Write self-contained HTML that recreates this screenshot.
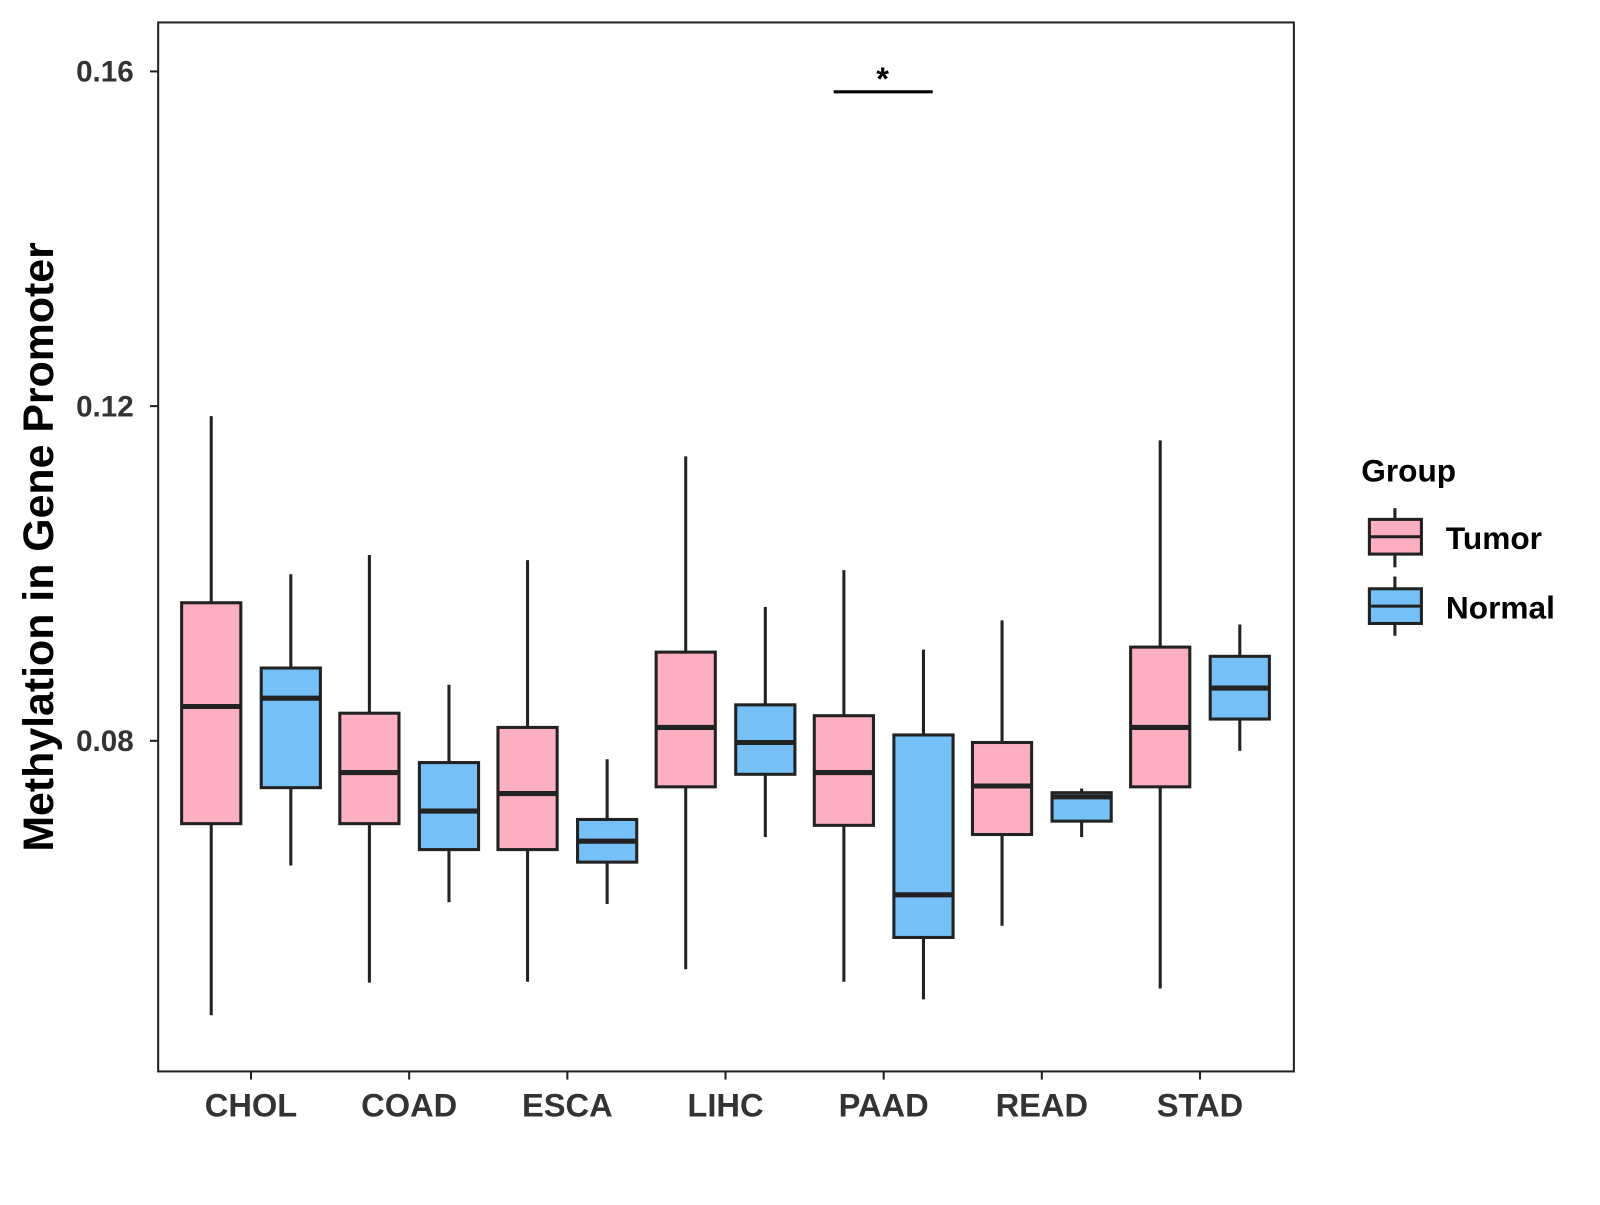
<!DOCTYPE html>
<html><head><meta charset="utf-8"><style>
body{margin:0;background:#fff}
svg text{font-family:"Liberation Sans",Arial,sans-serif;font-weight:bold}
</style></head><body>
<svg id="chart" width="1600" height="1200" viewBox="0 0 1568 1176" xmlns="http://www.w3.org/2000/svg">
<rect x="155" y="22" width="1113" height="1028" fill="#fff" stroke="#222" stroke-width="2"/>
<g id="marks"></g>
<g id="axes"></g>
<line x1="817" y1="90" x2="914" y2="90" stroke="#000" stroke-width="3"/>
<text x="865" y="88" font-size="32" text-anchor="middle">*</text>
<text transform="translate(52,536) rotate(-90)" font-size="42" text-anchor="middle" fill="#000">Methylation in Gene Promoter</text>
<g>
<text x="1334" y="472" font-size="31" fill="#000">Group</text>
<g>
<line x1="1367" y1="498" x2="1367" y2="556" stroke="#222" stroke-width="3"/>
<rect x="1342" y="509" width="51" height="34" fill="#fbafc1" stroke="#222" stroke-width="3"/>
<line x1="1342" y1="526" x2="1393" y2="526" stroke="#222" stroke-width="3"/>
<text x="1417" y="538" font-size="31" fill="#000">Tumor</text></g>
<g>
<line x1="1367" y1="565" x2="1367" y2="623" stroke="#222" stroke-width="3"/>
<rect x="1342" y="577" width="51" height="34" fill="#74c0f7" stroke="#222" stroke-width="3"/>
<line x1="1342" y1="594" x2="1393" y2="594" stroke="#222" stroke-width="3"/>
<text x="1417" y="606" font-size="31" fill="#000">Normal</text></g>
</g>
</svg>
<script>
const categories=["CHOL","COAD","ESCA","LIHC","PAAD","READ","STAD"];
const tumorStats=[[0.0472,0.0701,0.0841,0.0965,0.1188],[0.0511,0.0701,0.0762,0.0833,0.1022],[0.0512,0.0670,0.0737,0.0816,0.1016],[0.0527,0.0745,0.0816,0.0906,0.1140],[0.0512,0.0699,0.0762,0.0830,0.1004],[0.0579,0.0688,0.0746,0.0798,0.0944],[0.0504,0.0745,0.0816,0.0912,0.1159]];
const normalStats=[[0.0651,0.0744,0.0851,0.0887,0.0999],[0.0607,0.0670,0.0716,0.0774,0.0867],[0.0605,0.0655,0.0680,0.0706,0.0778],[0.0685,0.0760,0.0798,0.0843,0.0960],[0.0491,0.0565,0.0616,0.0807,0.0909],[0.0685,0.0704,0.0733,0.0738,0.0743],[0.0788,0.0826,0.0863,0.0901,0.0939]];
const yTicks=[0.08,0.12,0.16];
const yTickLabels=["0.08","0.12","0.16"];
const NS="http://www.w3.org/2000/svg";
function y(v){return 726-(v-0.08)*8200;}
function x(i){return 246+i*155;}
function mk(tag,attrs,parent){const e=document.createElementNS(NS,tag);for(const k in attrs)e.setAttribute(k,attrs[k]);parent.appendChild(e);return e;}
const marks=document.getElementById('marks'),axes=document.getElementById('axes');
function box(cx,s,fill,name){
 const g=mk('g',{},marks);
 
 
 mk('line',{x1:cx,x2:cx,y1:y(s[0]),y2:y(s[4]),stroke:'#222','stroke-width':3},g);
 mk('rect',{x:cx-29,width:58,y:y(s[3]),height:y(s[1])-y(s[3]),fill:fill,stroke:'#222','stroke-width':3},g);
 mk('line',{x1:cx-29,x2:cx+29,y1:y(s[2]),y2:y(s[2]),stroke:'#222','stroke-width':5},g);
}
categories.forEach((c,i)=>{
 box(x(i)-39,tumorStats[i],'#fbafc1','box-tumor-'+c.toLowerCase());
 box(x(i)+39,normalStats[i],'#74c0f7','box-normal-'+c.toLowerCase());
 mk('line',{x1:x(i),x2:x(i),y1:1050,y2:1058,stroke:'#222','stroke-width':2},axes);
 const t=mk('text',{x:x(i),y:1094,'font-size':32,'text-anchor':'middle',fill:'#333'},axes);
 t.textContent=c;
 
 
});
yTicks.forEach((v,i)=>{
 mk('line',{x1:147,x2:155,y1:y(v),y2:y(v),stroke:'#222','stroke-width':2},axes);
 const t=mk('text',{x:131,y:y(v)+10,'font-size':29,'text-anchor':'end',fill:'#333'},axes);
 t.textContent=yTickLabels[i];
 
 
});
</script>
</body></html>
